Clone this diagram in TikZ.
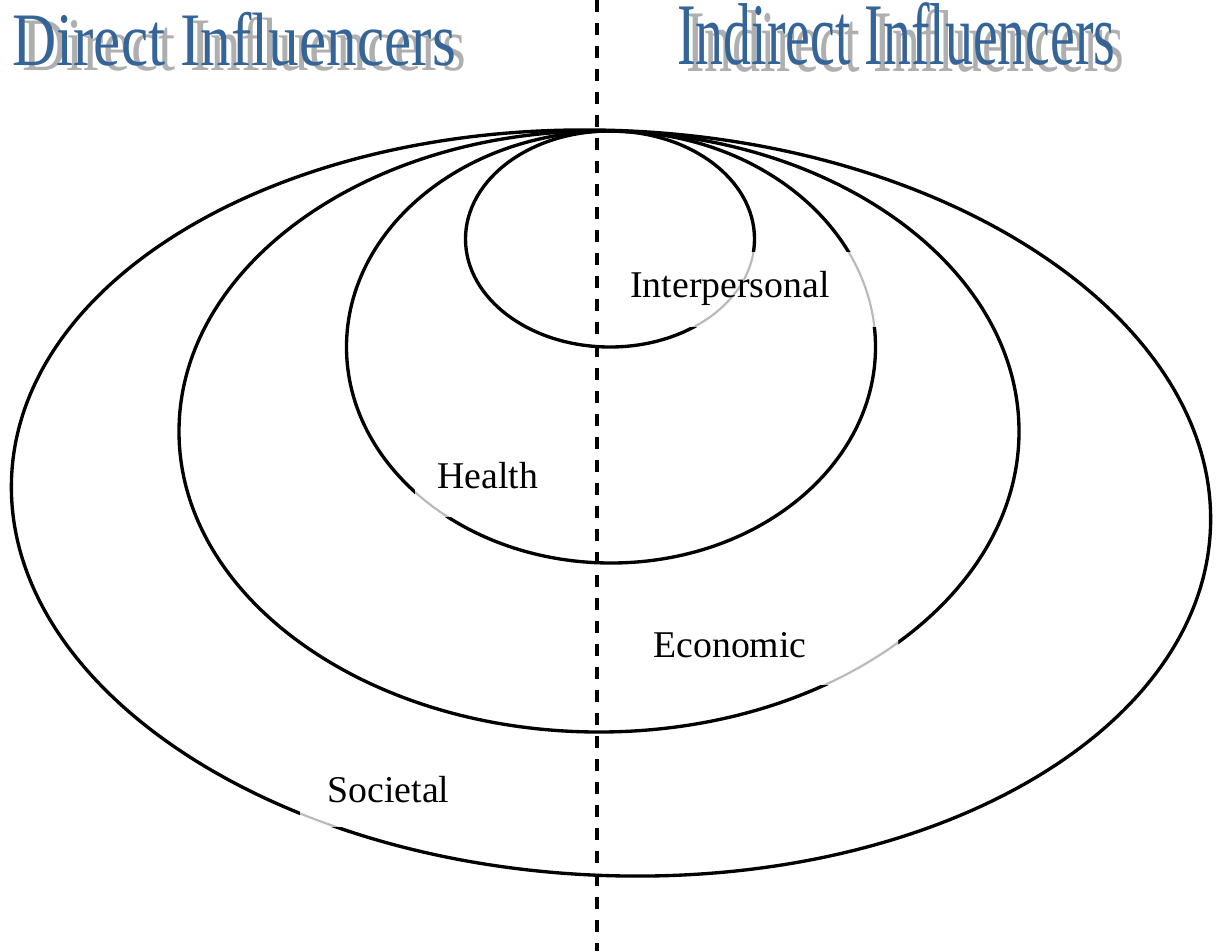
\documentclass[tikz,border=0pt]{standalone}
\usepackage{fontspec}
\setmainfont{Liberation Serif}
\usetikzlibrary{positioning}
\definecolor{titleblue}{RGB}{52,100,152}
\definecolor{shadowgray}{RGB}{175,175,175}

% centre x / centre y / x radius / y radius / rotation
\def\ringlist{12.20/-4.78/2.89/2.16/0, 12.22/-6.94/5.29/4.32/0, 11.98/-8.63/8.40/6.01/0, 12.22/-10.06/12.00/7.45/-2.5}

\begin{document}
\begin{tikzpicture}[
  ring/.style={line width=1.9pt},
  frost/.style={gray!55, line width=1.2pt},
  lbl/.style={anchor=base, inner sep=0pt, font=\fontsize{21.5}{26}\selectfont},
  heading/.style={anchor=base west, inner sep=0pt, text=titleblue},
  backshade/.style={anchor=base west, inner sep=0pt, text=shadowgray}
]
\useasboundingbox (0,0) rectangle (24.34,-19.02);

% titles
\node[backshade, xscale=0.81, font=\fontsize{43}{50}\selectfont] (directbg) at (0.44,-1.40) {Direct Influencers};
\node[heading, xscale=0.81, font=\fontsize{43}{50}\selectfont] (direct) at (0.24,-1.30) {Direct Influencers};
\node[backshade, xscale=0.635, font=\fontsize{50}{58}\selectfont] (indirectbg) at (13.72,-1.42) {Indirect Influencers};
\node[heading, xscale=0.635, font=\fontsize{50}{58}\selectfont] (indirect) at (13.54,-1.28) {Indirect Influencers};

% divider
\coordinate (divtop) at (11.94,0);
\coordinate (divbottom) at (11.94,-19.02);
\draw[line width=1.9pt, dash pattern=on 0.24cm off 0.22cm] (divtop) -- (divbottom);

% rings
\foreach \cx/\cy/\rx/\ry/\rot in \ringlist
  \draw[ring] (\cx,\cy) ellipse[x radius=\rx, y radius=\ry, rotate=\rot];

% faded bits under the labels
\foreach \xa/\ya/\xb/\yb in {12.10/-5.04/17.60/-6.52, 8.30/-9.10/11.20/-10.32, 12.60/-12.24/17.96/-13.68, 6.00/-15.20/9.50/-16.52}{
  \begin{scope}
    \clip (\xa,\ya) rectangle (\xb,\yb);
    \foreach \cx/\cy/\rx/\ry/\rot in \ringlist{
      \draw[white, line width=2.5pt] (\cx,\cy) ellipse[x radius=\rx, y radius=\ry, rotate=\rot];
      \draw[frost] (\cx,\cy) ellipse[x radius=\rx, y radius=\ry, rotate=\rot];
    }
  \end{scope}
}

% labels
\node[lbl] (interpersonal) at (14.60,-5.94) {Interpersonal};
\node[lbl] (health) at (9.76,-9.76) {Health};
\node[lbl] (economic) at (14.60,-13.14) {Economic};
\node[lbl] (societal) at (7.77,-16.04) {Societal};
\end{tikzpicture}
\end{document}
